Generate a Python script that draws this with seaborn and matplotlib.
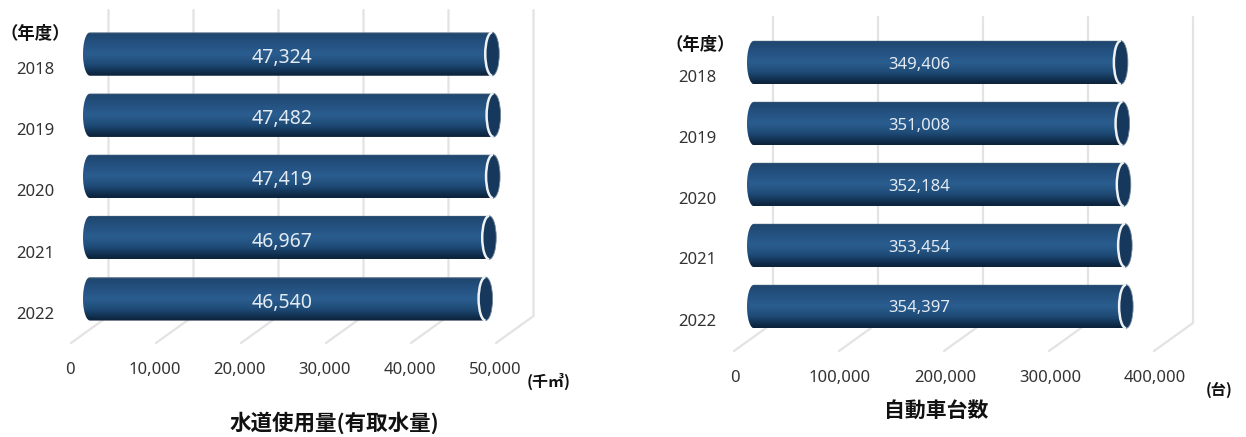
import numpy as np
import pandas as pd
import matplotlib
matplotlib.use("Agg")
import matplotlib.pyplot as plt
import seaborn as sns
from matplotlib.patches import Ellipse, PathPatch, Arc
from matplotlib.path import Path
from matplotlib.colors import LinearSegmentedColormap
from matplotlib.transforms import ScaledTranslation

years = ["2018", "2019", "2020", "2021", "2022"]
water_use = [47324, 47482, 47419, 46967, 46540]
vehicles = [349406, 351008, 352184, 353454, 354397]
water_ticks = [0, 10000, 20000, 30000, 40000, 50000]
vehicle_ticks = [0, 100000, 200000, 300000, 400000]
water_title = "水道使用量(有取水量)"
vehicle_title = "自動車台数"
water_unit = "(千㎥)"
vehicle_unit = "(台)"
year_unit = "（年度）"

W, H = 1246, 437
sns.set_theme(style="white")
plt.rcParams["font.family"] = ["Noto Sans", "Noto Sans CJK JP", "DejaVu Sans"]
CJK = ["Noto Sans CJK JP", "DejaVu Sans"]
TXT = "#333333"
GRID = "#e3e3e3"
cmap = LinearSegmentedColormap.from_list(
    "tube", [(0, "#8c99a6"), (0.03, "#1f466e"), (0.25, "#245180"), (0.5, "#2a5d8f"),
             (0.72, "#1f4c78"), (0.93, "#0f2b49"), (1, "#0d2238")])
fig = plt.figure(figsize=(W / 100, H / 100), dpi=100)
off = lambda dx, dy: ScaledTranslation(dx / 100, -dy / 100, fig.dpi_scale_trans)


def panel(values, ticks, box, zero, k, y0, pitch, top, floor, front_y, depth,
          label_fs, label_shift, label_dy, tick_dx, tick_dy):
    l, t, r, b = box
    ax = fig.add_axes([l / W, 1 - b / H, (r - l) / W, (b - t) / H])
    df = pd.DataFrame({"year": years, "value": values})
    bh = 43.5
    sns.barplot(data=df, x="value", y="year", orient="h", color="#24527f", saturation=1,
                width=bh / pitch, ax=ax, zorder=3)
    xlim = ((l - zero) / k, (r - zero) / k)
    ylim = ((b - y0) / pitch, (t - y0) / pitch)
    yf = (floor - y0) / pitch
    yfr = (front_y - y0) / pitch
    yt = (top - y0) / pitch
    back, front = depth[0] / k, depth[1] / k
    for v in ticks:
        ax.plot([v + back, v + back, v + front], [yt, yf, yfr], color=GRID, lw=1.6,
                zorder=1, clip_on=False, solid_joinstyle="miter")
    cap = 7 / k
    half = bh / pitch / 2
    theta = np.linspace(np.pi / 2, 3 * np.pi / 2, 40)
    centre = np.mean(values) / 2
    for i, (bar, v) in enumerate(zip(ax.patches, values)):
        bar.set_visible(False)
        im = ax.imshow(np.linspace(0, 1, 200)[:, None], cmap=cmap, aspect="auto", zorder=3,
                       extent=(-cap, v, i + half, i - half), interpolation="bilinear")
        xs = np.r_[cap * np.cos(theta), v, v]
        ys = np.r_[i + half * np.sin(-theta), i + half, i - half]
        im.set_clip_path(PathPatch(Path(np.c_[xs, ys]), transform=ax.transData))
        ax.add_patch(Ellipse((v, i), 2 * cap, 2 * half, fc="#16385c", ec="#6f8599", lw=0.6, zorder=4))
        ax.add_patch(Arc((v, i), 2 * cap, 2 * half, theta1=90, theta2=270, color="#eef2f5", lw=1.8, zorder=4))
        ax.text(centre + label_shift / k, i + label_dy / pitch, f"{v:,}", color="#e4ebf2",
                fontsize=label_fs, ha="center", va="center", zorder=5)
    ax.set_xlim(*xlim)
    ax.set_ylim(*ylim)
    ax.set_xticks(ticks)
    ax.set_xticklabels([f"{v:,}" for v in ticks])
    ax.tick_params(axis="both", length=0, labelsize=12, labelcolor=TXT, pad=4)
    ax.tick_params(axis="x", pad=10)
    for lab in ax.get_xticklabels():
        lab.set_transform(lab.get_transform() + off(tick_dx, 0))
    for lab in ax.get_yticklabels():
        lab.set_transform(lab.get_transform() + off(0, tick_dy))
    ax.set_xlabel("")
    ax.set_ylabel("")
    ax.patch.set_alpha(0)
    sns.despine(ax=ax, left=True, bottom=True)
    return ax


panel(water_use, water_ticks, (60, 5, 545, 348), 90, 0.0085, 54, 61.2, 10, 316, 343,
      (18.5, -19), 14, -8, 4, -20, 14)
panel(vehicles, vehicle_ticks, (722, 5, 1200, 356), 754, 0.00105, 62.5, 61, 17, 323, 351,
      (19, -20), 12, -20, 2, -19, 13)


def label(px, py, s, fs):
    fig.text(px / W, 1 - py / H, s, family=CJK, fontweight="bold", fontsize=fs,
             color="#111111", ha="center", va="center")


label(35, 34, year_unit, 12.5)
label(700, 45, year_unit, 12.5)
label(549, 381, water_unit, 11.5)
label(1219, 390, vehicle_unit, 11)
label(334, 423, water_title, 15.5)
label(936, 410, vehicle_title, 15)

fig.savefig("out.png", dpi=100, facecolor="white")
